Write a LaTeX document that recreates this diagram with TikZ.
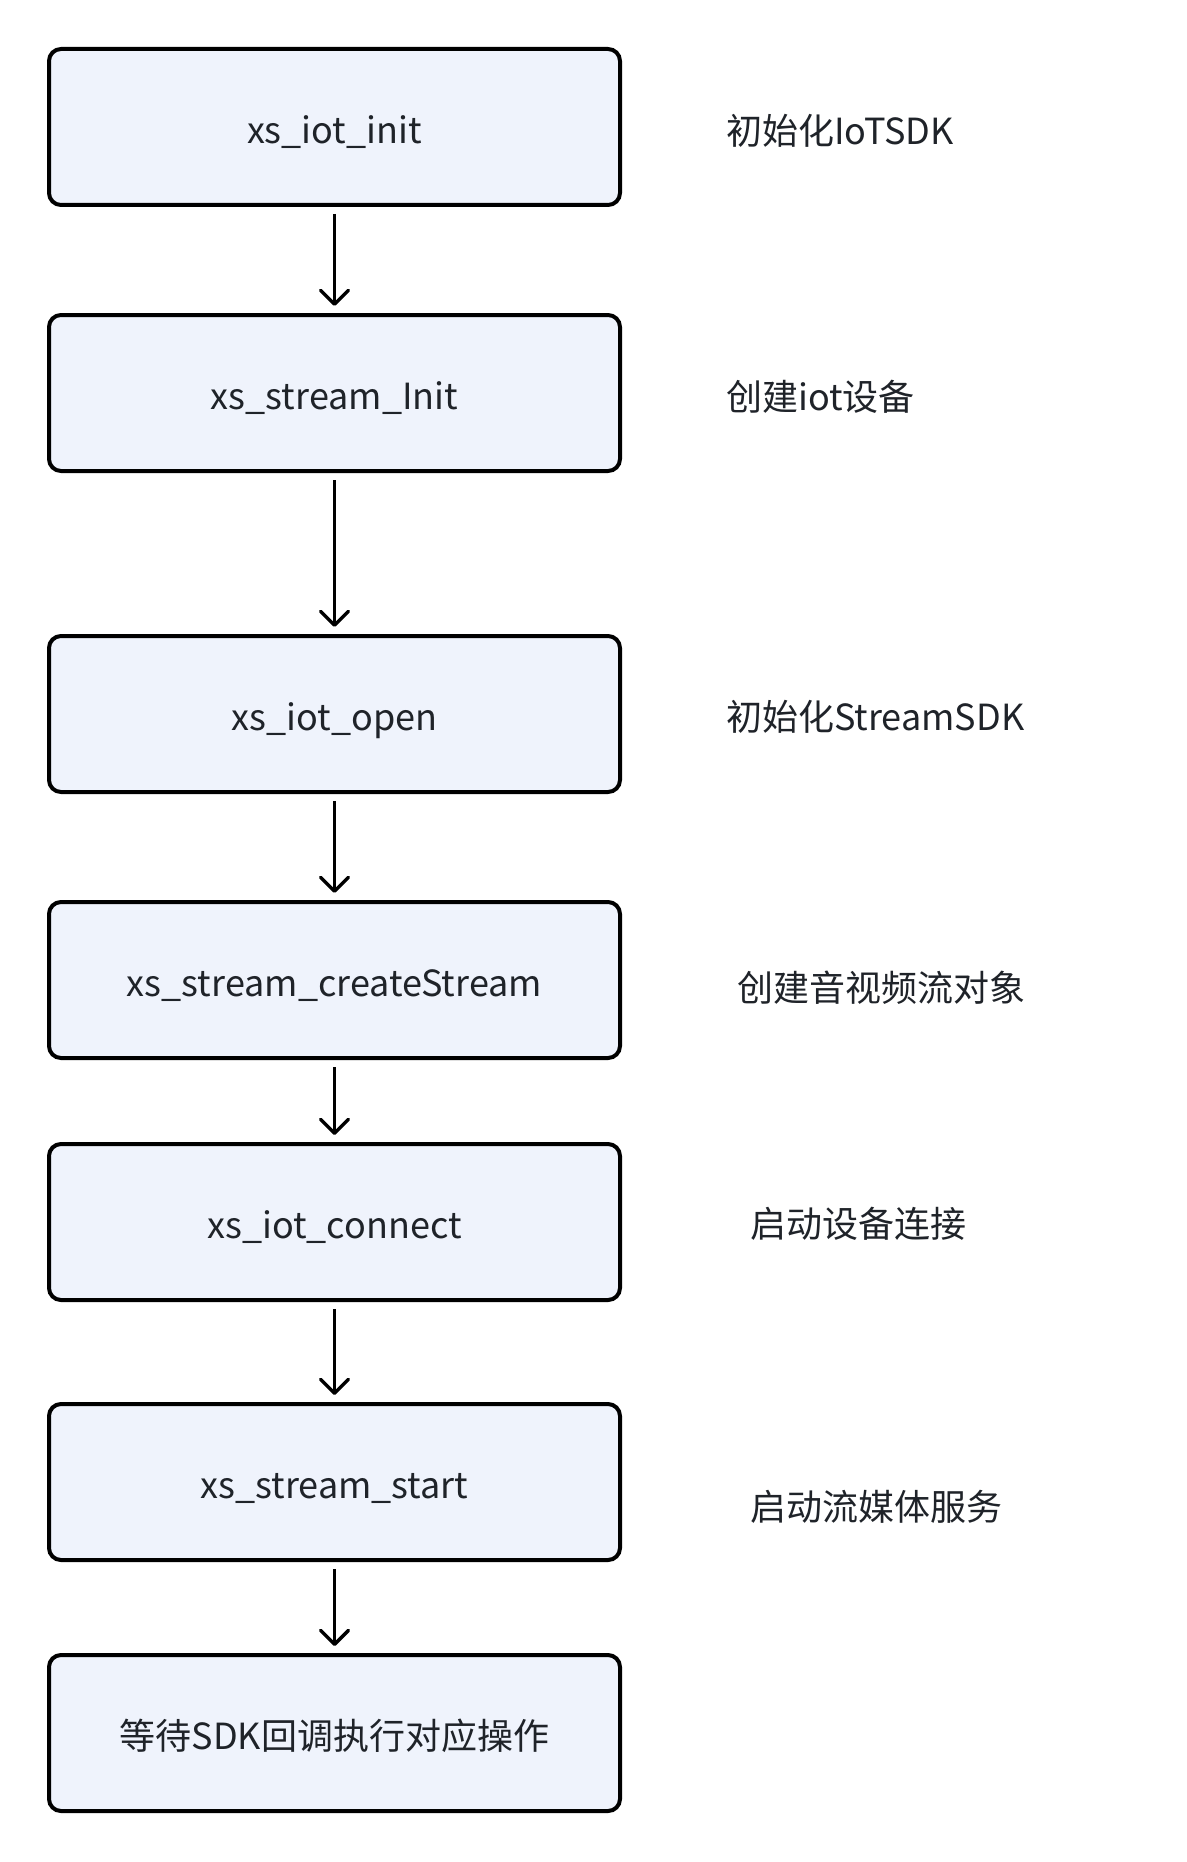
\documentclass[tikz,border=0pt]{standalone}
\usepackage{fontspec}
\setmainfont{Noto Sans CJK SC}
\usetikzlibrary{arrows.meta}
\definecolor{boxfill}{HTML}{EFF3FC}
\definecolor{txt}{HTML}{1F2329}
\tikzset{
  stepbox/.style={rectangle, draw=black, line width=4pt, fill=boxfill, rounded corners=12pt,
    minimum width=571pt, minimum height=156pt, text=txt, font=\fontsize{36}{43}\selectfont,
    inner sep=0pt, text height=36pt, text depth=3pt},
  note/.style={anchor=west, text=txt, font=\fontsize{36}{43}\selectfont, inner sep=0pt},
  flow/.style={line width=3.5pt, -{Straight Barb[length=14pt,width=28pt,line width=3.5pt,round]},
    shorten <=7pt, shorten >=7pt}
}
\begin{document}
\begin{tikzpicture}[x=1pt,y=-1pt]
\useasboundingbox (0,0) rectangle (1186,1862);
\node[stepbox] (b1) at (334.5,127) {xs\_iot\_init};
\node[stepbox] (b2) at (334.5,393) {xs\_stream\_Init};
\node[stepbox] (b3) at (334.5,714) {xs\_iot\_open};
\node[stepbox] (b4) at (334.5,980) {xs\_stream\_createStream};
\node[stepbox] (b5) at (334.5,1222) {xs\_iot\_connect};
\node[stepbox] (b6) at (334.5,1482) {xs\_stream\_start};
\node[stepbox] (b7) at (334.5,1733) {等待SDK回调执行对应操作};
\node[note] (n1) at (726,131) {初始化IoTSDK};
\node[note] (n2) at (726,397) {创建iot设备};
\node[note] (n3) at (726,717) {初始化StreamSDK};
\node[note] (n4) at (737,988) {创建音视频流对象};
\node[note] (n5) at (750,1224) {启动设备连接};
\node[note] (n6) at (750,1507) {启动流媒体服务};
\draw[flow] (b1) -- (b2);
\draw[flow] (b2) -- (b3);
\draw[flow] (b3) -- (b4);
\draw[flow] (b4) -- (b5);
\draw[flow] (b5) -- (b6);
\draw[flow] (b6) -- (b7);
\end{tikzpicture}
\end{document}
